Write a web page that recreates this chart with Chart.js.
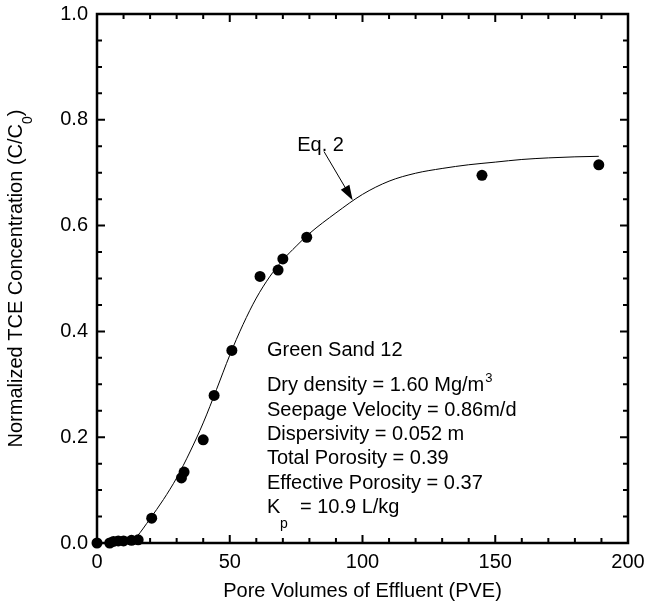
<!DOCTYPE html>
<html>
<head>
<meta charset="utf-8">
<script src="https://cdn.jsdelivr.net/npm/chart.js@4.4.1/dist/chart.umd.min.js"></script>
<style>
  html, body { margin: 0; padding: 0; background: #fff; }
  #wrap { width: 646px; height: 604px; }
</style>
</head>
<body>
<div id="wrap"><canvas id="myChart" width="646" height="604"></canvas></div>
<script>
// measured points
const pveObs = [0, 4.8, 6.2, 8, 10, 13, 15.5, 20.6, 31.8, 32.8, 40, 44.1, 50.8, 61.4, 68.2, 70, 79, 145, 189];
const ccObs = [0, 0, 0.003, 0.004, 0.004, 0.005, 0.006, 0.047, 0.123, 0.134, 0.195, 0.279, 0.364, 0.504, 0.516, 0.537, 0.578, 0.695, 0.715];

// Eq. 2 fitted curve
const eqPve = [12.5, 15, 20, 25, 30, 35, 40, 45, 50, 55, 60, 65, 70, 75, 80, 90, 100, 110, 120, 130, 140, 150, 160, 170, 180, 189];
const eqCc = [0, 0.012, 0.046, 0.082, 0.123, 0.172, 0.227, 0.29, 0.355, 0.413, 0.463, 0.503, 0.535, 0.561, 0.585, 0.624, 0.659, 0.684, 0.699, 0.708, 0.715, 0.72, 0.725, 0.728, 0.73, 0.731];

const xTickLabels = [0, 50, 100, 150, 200];
const yTickLabels = [0.0, 0.2, 0.4, 0.6, 0.8, 1.0];

const xTitle = 'Pore Volumes of Effluent (PVE)';
const yTitle = 'Normalized TCE Concentration (C/C';
const eqLabel = 'Eq. 2';
const noteLines = [
    'Green Sand 12',
    'Dry density = 1.60 Mg/m',
    'Seepage Velocity = 0.86m/d',
    'Dispersivity = 0.052 m',
    'Total Porosity = 0.39',
    'Effective Porosity = 0.37',
    '= 10.9 L/kg'
];

const FONT = '"Liberation Sans", Arial, Helvetica, sans-serif';

const toXY = (xs, ys) => xs.map((x, i) => ({ x: x, y: ys[i] }));

const framePlugin = {
    id: 'frame',
    afterDraw(chart) {
        const ctx = chart.ctx;
        const a = chart.chartArea;
        const xs = chart.scales.x;
        const ys = chart.scales.y;
        ctx.save();
        ctx.strokeStyle = '#000';
        ctx.fillStyle = '#000';

        // box
        ctx.lineWidth = 2.5;
        ctx.strokeRect(a.left, a.top, a.right - a.left, a.bottom - a.top);

        // inward ticks on all four sides
        ctx.lineWidth = 2;
        ctx.beginPath();
        for (let v = 0; v <= 200; v += 10) {
            const px = xs.getPixelForValue(v);
            const len = v % 50 === 0 ? 8 : 5;
            ctx.moveTo(px, a.bottom); ctx.lineTo(px, a.bottom - len);
            ctx.moveTo(px, a.top); ctx.lineTo(px, a.top + len);
        }
        for (let i = 0; i <= 20; i++) {
            const py = ys.getPixelForValue(i * 0.05);
            const len = i % 4 === 0 ? 8 : 5;
            ctx.moveTo(a.left, py); ctx.lineTo(a.left + len, py);
            ctx.moveTo(a.right, py); ctx.lineTo(a.right - len, py);
        }
        ctx.stroke();

        // x title
        ctx.font = '20px ' + FONT;
        ctx.textAlign = 'center';
        ctx.textBaseline = 'middle';
        ctx.fillText(xTitle, (a.left + a.right) / 2, 591);

        // y title, rotated, with subscript 0
        ctx.save();
        ctx.translate(16, (a.top + a.bottom) / 2);
        ctx.rotate(-Math.PI / 2);
        ctx.font = '20px ' + FONT;
        const w1 = ctx.measureText(yTitle).width;
        ctx.font = '14px ' + FONT;
        const w2 = ctx.measureText('0').width;
        ctx.font = '20px ' + FONT;
        const w3 = ctx.measureText(')').width;
        let x0 = -(w1 + w2 + w3) / 2;
        ctx.textAlign = 'left';
        ctx.fillText(yTitle, x0, 0);
        ctx.font = '14px ' + FONT;
        ctx.fillText('0', x0 + w1, 12);
        ctx.font = '20px ' + FONT;
        ctx.fillText(')', x0 + w1 + w2, 0);
        ctx.restore();

        // Eq. 2 label with arrow to the curve
        const lx = xs.getPixelForValue(84.2), ly = ys.getPixelForValue(0.752);
        ctx.textAlign = 'center';
        ctx.fillText(eqLabel, lx, ly);
        const ax0 = xs.getPixelForValue(85.5), ay0 = ys.getPixelForValue(0.74);
        const ax1 = xs.getPixelForValue(96.3), ay1 = ys.getPixelForValue(0.648);
        const ang = Math.atan2(ay1 - ay0, ax1 - ax0);
        ctx.lineWidth = 1;
        ctx.beginPath();
        ctx.moveTo(ax0, ay0);
        ctx.lineTo(ax1 - 10 * Math.cos(ang), ay1 - 10 * Math.sin(ang));
        ctx.stroke();
        ctx.beginPath();
        ctx.moveTo(ax1, ay1);
        ctx.lineTo(ax1 - 15 * Math.cos(ang) + 5 * Math.sin(ang), ay1 - 15 * Math.sin(ang) - 5 * Math.cos(ang));
        ctx.lineTo(ax1 - 15 * Math.cos(ang) - 5 * Math.sin(ang), ay1 - 15 * Math.sin(ang) + 5 * Math.cos(ang));
        ctx.closePath();
        ctx.fill();

        // parameter block
        const nx = xs.getPixelForValue(64);
        const ny = ys.getPixelForValue(0.363);
        const offs = [0, 35, 59.5, 84, 108, 132.5, 157];
        ctx.textAlign = 'left';
        ctx.font = '20px ' + FONT;
        for (let i = 0; i < 6; i++) {
            ctx.fillText(noteLines[i], nx, ny + offs[i]);
        }
        const wm = ctx.measureText(noteLines[1]).width;
        ctx.font = '13px ' + FONT;
        ctx.fillText('3', nx + wm + 1, ny + offs[1] - 8);
        ctx.font = '20px ' + FONT;
        ctx.fillText('K', nx, ny + offs[6]);
        ctx.font = '14px ' + FONT;
        ctx.fillText('p', nx + 13, ny + offs[6] + 16);
        ctx.font = '20px ' + FONT;
        ctx.fillText(noteLines[6], nx + 33, ny + offs[6]);

        ctx.restore();
    }
};

const config = {
    type: 'scatter',
    data: {
        datasets: [
            {
                label: 'Eq. 2',
                data: toXY(eqPve, eqCc),
                showLine: true,
                borderColor: '#000',
                borderWidth: 1,
                pointRadius: 0,
                cubicInterpolationMode: 'monotone',
                fill: false
            },
            {
                label: 'Measured',
                data: toXY(pveObs, ccObs),
                backgroundColor: '#000',
                borderColor: '#000',
                pointRadius: 5.5,
                pointBorderWidth: 0,
                clip: false
            }
        ]
    },
    options: {
        responsive: false,
        animation: false,
        layout: { padding: { top: 14, right: 18, left: 0, bottom: 0 } },
        plugins: {
            legend: { display: false },
            tooltip: { enabled: false },
            title: { display: false }
        },
        scales: {
            x: {
                type: 'linear',
                min: 0,
                max: 200,
                afterFit(scale) {
                    scale.height = 61;
                    scale.paddingLeft = 0;
                    scale.paddingRight = 0;
                },
                afterBuildTicks(scale) { scale.ticks = xTickLabels.map(v => ({ value: v })); },
                grid: { display: false, drawTicks: false },
                border: { display: false },
                ticks: {
                    color: '#000',
                    padding: 7,
                    maxRotation: 0,
                    font: { family: FONT, size: 20 },
                    callback: v => String(v)
                }
            },
            y: {
                type: 'linear',
                min: 0,
                max: 1,
                afterFit(scale) {
                    scale.width = 97;
                    scale.paddingTop = 0;
                    scale.paddingBottom = 0;
                },
                afterBuildTicks(scale) { scale.ticks = yTickLabels.map(v => ({ value: v })); },
                grid: { display: false, drawTicks: false },
                border: { display: false },
                ticks: {
                    color: '#000',
                    padding: 9,
                    font: { family: FONT, size: 20 },
                    callback: v => Number(v).toFixed(1)
                }
            }
        }
    },
    plugins: [framePlugin]
};

new Chart(document.getElementById('myChart'), config);
</script>
</body>
</html>
